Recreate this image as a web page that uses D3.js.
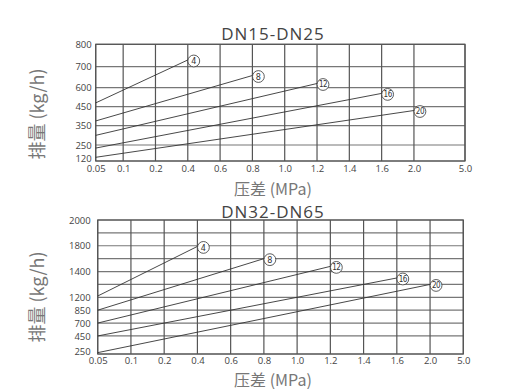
<!DOCTYPE html>
<html>
<head>
<meta charset="utf-8">
<script src="https://cdn.jsdelivr.net/npm/d3@7/dist/d3.min.js"></script>
<style>
    body { margin: 0; background: #fff; }
    svg { display: block; }
</style>
</head>
<body>
<script>
// pressure axis (shared by both charts)
var pressureTicks = [0.05, 0.1, 0.2, 0.4, 0.6, 0.8, 1.0, 1.2, 1.4, 1.6, 2.0, 5.0];
var pressureLabels = ["0.05", "0.1", "0.2", "0.4", "0.6", "0.8", "1.0", "1.2", "1.4", "1.6", "2.0", "5.0"];

// curves: orifice number, start / end pressure
var curveNames = ["4", "8", "12", "16", "20"];
var curveStartP = [0.05, 0.05, 0.05, 0.05, 0.05];
var curveEndP = [0.4, 0.8, 1.2, 1.6, 2.0];

// DN15-DN25
var smallTitle = "DN15-DN25";
var smallFlowTicks = [120, 250, 350, 450, 600, 700, 800];
var smallGridExtra = [];
var smallStartFlow = [480, 375, 300, 225, 150];
var smallEndFlow = [730, 658, 620, 555, 430];

// DN32-DN65
var largeTitle = "DN32-DN65";
var largeFlowTicks = [250, 450, 700, 850, 1200, 1400, 1800, 2000];
var largeGridExtra = [1300, 1600, 1900];
var largeStartFlow = [1210, 850, 700, 450, 265];
var largeEndFlow = [1790, 1600, 1480, 1350, 1300];

var xTitle = "压差 (MPa)";
var yTitle = "排量 (kg/h)";

var width = 515;
var height = 389;
var svg = d3.select("body")
    .append("svg")
    .attr("width", width)
    .attr("height", height);

// piecewise scale: each domain value gets a slot, gaps are relative widths
var pieceScale = function (values, gaps, r0, r1) {
    var pos = [0];
    for (var i = 0; i < gaps.length; i++) {
        pos.push(pos[i] + gaps[i]);
    }
    var total = pos[pos.length - 1];
    return d3.scaleLinear()
        .domain(values)
        .range(pos.map(function (p) { return r0 + (r1 - r0) * p / total; }));
};

var drawChart = function (opt) {
    var g = svg.append("g");
    var x = pieceScale(pressureTicks, opt.xGaps, opt.left, opt.right);
    var yVals = opt.yTicks.concat(opt.yExtra).sort(function (a, b) { return a - b; });
    var y = pieceScale(yVals, opt.yGaps, opt.bottom, opt.top);

    // horizontal grid
    g.selectAll("line.hgrid")
        .data(yVals)
        .enter()
        .append("line")
        .attr("class", "hgrid")
        .attr("x1", opt.left)
        .attr("x2", opt.right)
        .attr("y1", function (d) { return y(d); })
        .attr("y2", function (d) { return y(d); })
        .style("stroke", "#777")
        .style("stroke-width", 1.2);

    // vertical grid
    g.selectAll("line.vgrid")
        .data(pressureTicks)
        .enter()
        .append("line")
        .attr("class", "vgrid")
        .attr("x1", function (d) { return x(d); })
        .attr("x2", function (d) { return x(d); })
        .attr("y1", opt.top)
        .attr("y2", opt.bottom)
        .style("stroke", "#555")
        .style("stroke-width", 1.2);

    g.append("rect")
        .attr("x", opt.left)
        .attr("y", opt.top)
        .attr("width", opt.right - opt.left)
        .attr("height", opt.bottom - opt.top)
        .style("fill", "none")
        .style("stroke", "#555")
        .style("stroke-width", 1.2);

    // axes (labels only)
    var xAxis = d3.axisBottom(x)
        .tickValues(pressureTicks)
        .tickFormat(function (d, i) { return pressureLabels[i]; })
        .tickSize(0)
        .tickPadding(opt.xPad);
    var gx = g.append("g")
        .attr("transform", "translate(0," + opt.bottom + ")")
        .call(xAxis);
    var yAxis = d3.axisLeft(y)
        .tickValues(opt.yTicks)
        .tickFormat(d3.format("d"))
        .tickSize(0)
        .tickPadding(opt.yPad);
    var gy = g.append("g")
        .attr("transform", "translate(" + opt.left + ",0)")
        .call(yAxis);
    [gx, gy].forEach(function (a) {
        a.select(".domain").remove();
        a.selectAll("text")
            .style("font-family", "'Open Sans', sans-serif")
            .style("font-size", "9.5px")
            .style("fill", "#444");
    });
    // lowest flow label sits a little above the frame bottom
    gy.selectAll(".tick text")
        .filter(function (d) { return d === opt.yTicks[0]; })
        .attr("dy", opt.lowDy);

    // curves
    var curves = curveNames.map(function (n, i) {
        return {name: n, p0: curveStartP[i], p1: curveEndP[i], f0: opt.start[i], f1: opt.end[i]};
    });
    g.selectAll("line.curve")
        .data(curves)
        .enter()
        .append("line")
        .attr("class", "curve")
        .attr("x1", function (d) { return x(d.p0); })
        .attr("y1", function (d) { return y(d.f0); })
        .attr("x2", function (d) { return x(d.p1); })
        .attr("y2", function (d) { return y(d.f1); })
        .style("stroke", "#333")
        .style("stroke-width", 0.9);

    var marks = g.selectAll("g.mark")
        .data(curves)
        .enter()
        .append("g")
        .attr("class", "mark")
        .attr("transform", function (d) {
            return "translate(" + (x(d.p1) + 6) + "," + (y(d.f1) + 1) + ")";
        });
    marks.append("circle")
        .attr("r", 5.9)
        .style("fill", "#fff")
        .style("stroke", "#333")
        .style("stroke-width", 0.8);
    marks.append("text")
        .attr("text-anchor", "middle")
        .attr("dy", "0.36em")
        .style("font-family", "'Liberation Sans Narrow', 'DejaVu Sans Condensed', sans-serif")
        .style("font-size", function (d) { return d.name.length > 1 ? "8px" : "9px"; })
        .style("letter-spacing", function (d) { return d.name.length > 1 ? "-0.5px" : "0"; })
        .style("fill", "#333")
        .text(function (d) { return d.name; });

    // titles
    g.append("text")
        .attr("x", opt.titleX)
        .attr("y", opt.titleY)
        .attr("text-anchor", "middle")
        .style("font-family", "'Open Sans', sans-serif")
        .style("font-size", "17px")
        .style("letter-spacing", "1px")
        .style("fill", "#444")
        .text(opt.title);
    g.append("text")
        .attr("x", opt.titleX)
        .attr("y", opt.xTitleY)
        .attr("text-anchor", "middle")
        .style("font-family", "'Noto Sans CJK SC', sans-serif")
        .style("font-weight", "400")
        .style("font-size", "16px")
        .style("fill", "#777")
        .text(xTitle);
    g.append("text")
        .attr("transform", "translate(44," + opt.yTitleY + ") rotate(-90)")
        .attr("text-anchor", "middle")
        .style("font-family", "'Noto Sans CJK SC', sans-serif")
        .style("font-weight", "400")
        .style("font-size", "18px")
        .style("fill", "#777")
        .text(yTitle);
};

drawChart({
    title: smallTitle, yTicks: smallFlowTicks, yExtra: smallGridExtra,
    start: smallStartFlow, end: smallEndFlow,
    left: 95.7, right: 465, top: 44.3, bottom: 161,
    xGaps: [0.85, 1, 1, 1, 1, 1, 1, 1, 1, 1, 1.58],
    yGaps: [16, 19.3, 19, 19, 21, 22.4],
    xPad: 4.5, yPad: 4, lowDy: "0.05em",
    titleX: 273, titleY: 40, xTitleY: 194.5, yTitleY: 114
});

drawChart({
    title: largeTitle, yTicks: largeFlowTicks, yExtra: largeGridExtra,
    start: largeStartFlow, end: largeEndFlow,
    left: 97.7, right: 463.3, top: 220, bottom: 354,
    xGaps: [1, 1, 1, 1, 1, 1, 1, 1, 1, 1, 1],
    yGaps: [1.4, 1, 1, 1, 1, 1, 1, 1, 1, 1],
    xPad: 3, yPad: 7, lowDy: "0.0em",
    titleX: 273, titleY: 218, xTitleY: 385.5, yTitleY: 297
});
</script>
</body>
</html>
